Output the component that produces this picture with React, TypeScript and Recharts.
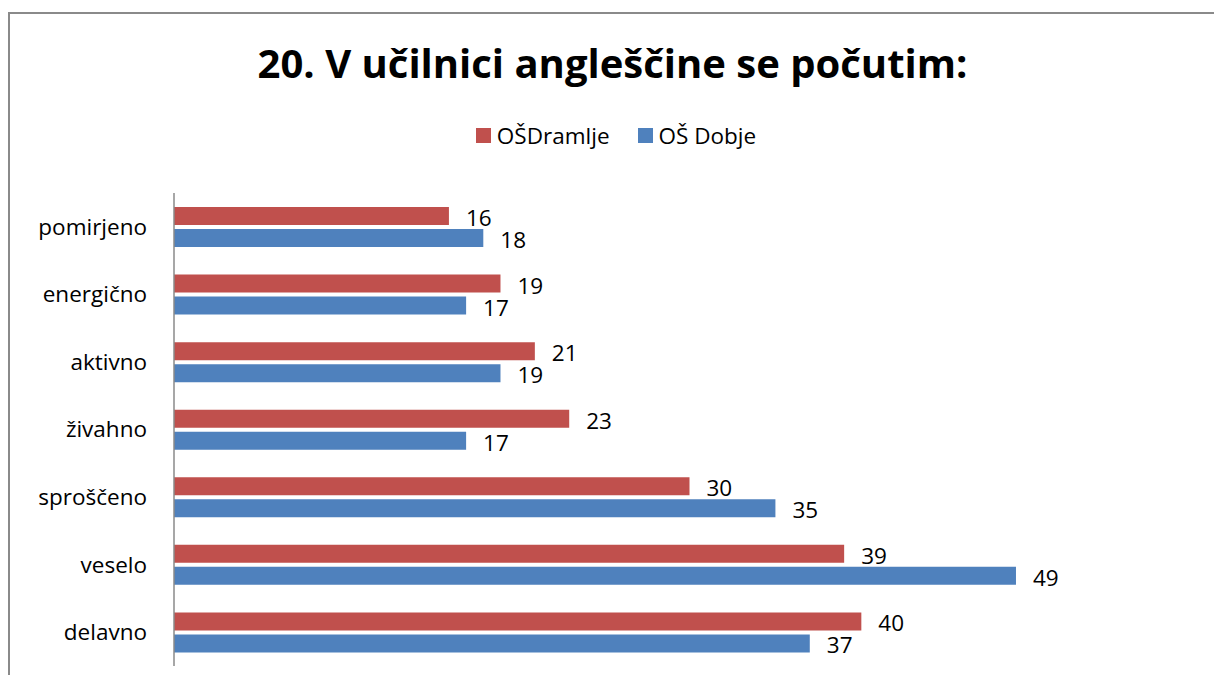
import React from "react";
import { BarChart, Bar, XAxis, YAxis, Legend, LabelList } from "recharts";

// Kategorije od zgoraj navzdol, kot v izvirnem grafu.
const categories = [
  "pomirjeno",
  "energično",
  "aktivno",
  "živahno",
  "sproščeno",
  "veselo",
  "delavno",
];
const dramlje = [16, 19, 21, 23, 30, 39, 40];
const dobje = [18, 17, 19, 17, 35, 49, 37];
const legendOrder = ["OŠDramlje", "OŠ Dobje"];

const data = categories.map((name, i) => ({
  name,
  dramlje: dramlje[i],
  dobje: dobje[i],
}));

const FONT = "'Open Sans', sans-serif";
const RED = "#C0504D";
const BLUE = "#4F81BD";
const TXT = 22.5;

function LegendBox({ payload }: any) {
  const items = [...(payload || [])].sort(
    (a: any, b: any) => legendOrder.indexOf(a.value) - legendOrder.indexOf(b.value)
  );
  return (
    <div style={{ display: "flex", justifyContent: "center", fontFamily: FONT, fontSize: TXT, color: "#000" }}>
      {items.map((p: any) => (
        <div key={p.value} style={{ display: "flex", alignItems: "center", margin: "0 14px" }}>
          <span style={{ width: 15, height: 15, background: p.color, marginRight: 6, display: "inline-block" }} />
          <span>{p.value}</span>
        </div>
      ))}
    </div>
  );
}

export default function App() {
  return (
    <div
      style={{
        position: "absolute",
        left: 0,
        top: 0,
        width: 1214,
        height: 675,
        overflow: "hidden",
        background: "#fff",
      }}
    >
      <div
        style={{
          position: "absolute",
          left: 8,
          top: 12,
          width: 1206,
          height: 663,
          borderLeft: "2px solid #8a8a8a",
          borderTop: "2px solid #8a8a8a",
          boxSizing: "border-box",
        }}
      />
      <div
        style={{
          position: "absolute",
          left: 0,
          top: 35,
          width: 1225,
          textAlign: "center",
          fontFamily: FONT,
          fontWeight: 700,
          fontSize: 40,
          color: "#000",
        }}
      >
        20. V učilnici angleščine se počutim:
      </div>
      <div style={{ position: "absolute", left: 0, top: 0 }}>
        <BarChart
          width={1214}
          height={675}
          data={data}
          layout="vertical"
          margin={{ top: 193, right: 9, bottom: 9, left: 0 }}
          barSize={18}
          barGap={4}
        >
          <XAxis type="number" domain={[0, 60]} hide />
          <YAxis
            type="category"
            dataKey="name"
            width={174}
            axisLine={{ stroke: "#8a8a8a", strokeWidth: 1.5 }}
            tickLine={false}
            tickMargin={21}
            tick={{ fontFamily: FONT, fontSize: TXT, fill: "#000" }}
          />
          <Legend
            layout="horizontal"
            verticalAlign="middle"
            align="center"
            wrapperStyle={{ top: 120, left: 0, width: 1232 }}
            content={<LegendBox />}
          />
          <Bar dataKey="dramlje" name="OŠDramlje" fill={RED} isAnimationActive={false}>
            <LabelList
              dataKey="dramlje"
              position="right"
              offset={17}
              dy={2}
              style={{ fontFamily: FONT, fontSize: TXT, fill: "#000" }}
            />
          </Bar>
          <Bar dataKey="dobje" name="OŠ Dobje" fill={BLUE} isAnimationActive={false}>
            <LabelList
              dataKey="dobje"
              position="right"
              offset={17}
              dy={2}
              style={{ fontFamily: FONT, fontSize: TXT, fill: "#000" }}
            />
          </Bar>
        </BarChart>
      </div>
    </div>
  );
}
